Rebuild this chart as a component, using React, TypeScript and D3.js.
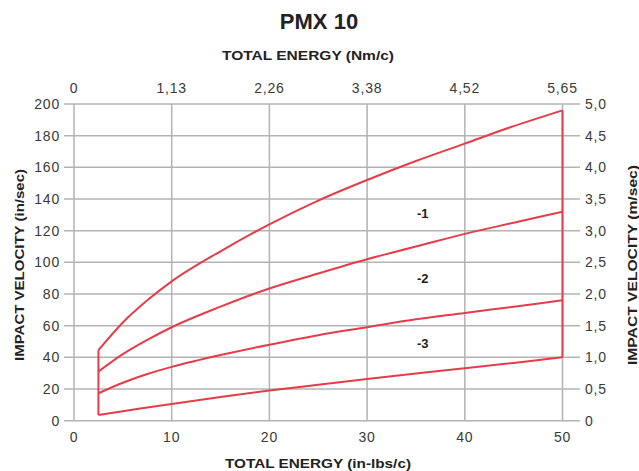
import React, { useEffect, useRef } from 'react';
import * as d3 from 'd3';

// energy (in-lbs/c) sample points
const energy = [2.5, 5, 7.5, 10, 15, 20, 25, 30, 35, 40, 45, 50];
const curveTop = [44.5, 62, 76, 88, 107, 124, 139, 152, 164, 175, 186, 196];
const curveM1 = [31, 42, 51, 59, 72, 83.5, 93, 102, 110, 118, 125, 132];
const curveM2 = [17.3, 24, 29.5, 34, 41.5, 48, 54, 59, 64, 68, 72, 76];
const curveM3 = [3.6, 6, 8.3, 10.6, 15, 19, 22.7, 26.3, 29.8, 33.1, 36.5, 40];

const seriesLabels = [
    { text: '-1', x: 35.7, y: 131 },
    { text: '-2', x: 35.7, y: 90 },
    { text: '-3', x: 35.7, y: 49 },
];

const xTicks = [0, 10, 20, 30, 40, 50];
const topTickLabels = ['0', '1,13', '2,26', '3,38', '4,52', '5,65'];
const yTicks = [0, 20, 40, 60, 80, 100, 120, 140, 160, 180, 200];
const rightTickLabels = ['0', '0,5', '1,0', '1,5', '2,0', '2,5', '3,0', '3,5', '4,0', '4,5', '5,0'];

const App = () => {
    const svgRef = useRef(null);
    const width = 639;
    const height = 471;

    useEffect(() => {
        const svg = d3.select(svgRef.current);
        svg.selectAll('*').remove();

        const xScale = d3.scaleLinear().domain([0, 50]).range([74, 562.5]);
        const yScale = d3.scaleLinear().domain([0, 200]).range([420.7, 104]);

        const gridColor = '#b3b3b3';
        const textColor = '#3a3a3a';
        const red = '#e43d4a';
        const font = 'Liberation Sans, Arial, sans-serif';

        // gridlines
        svg.append('g').selectAll('line')
            .data(yTicks)
            .join('line')
            .attr('x1', 64)
            .attr('x2', 580)
            .attr('y1', d => yScale(d))
            .attr('y2', d => yScale(d))
            .attr('stroke', gridColor)
            .attr('stroke-width', 1.5);

        svg.append('g').selectAll('line')
            .data(xTicks)
            .join('line')
            .attr('x1', d => xScale(d))
            .attr('x2', d => xScale(d))
            .attr('y1', yScale(200))
            .attr('y2', yScale(0))
            .attr('stroke', gridColor)
            .attr('stroke-width', 1.5);

        // tick labels
        const tickText = sel => sel
            .attr('font-family', font)
            .attr('font-size', 14)
            .attr('letter-spacing', 0.8)
            .attr('fill', textColor);

        svg.append('g').selectAll('text')
            .data(yTicks)
            .join('text')
            .attr('x', 60)
            .attr('y', d => yScale(d))
            .attr('dy', '0.35em')
            .attr('text-anchor', 'end')
            .call(tickText)
            .text(d => d);

        svg.append('g').selectAll('text')
            .data(yTicks)
            .join('text')
            .attr('x', 585)
            .attr('y', d => yScale(d))
            .attr('dy', '0.35em')
            .call(tickText)
            .text((d, i) => rightTickLabels[i]);

        svg.append('g').selectAll('text')
            .data(xTicks)
            .join('text')
            .attr('x', d => xScale(d))
            .attr('y', 442)
            .attr('text-anchor', 'middle')
            .call(tickText)
            .text(d => d);

        svg.append('g').selectAll('text')
            .data(xTicks)
            .join('text')
            .attr('x', d => xScale(d))
            .attr('y', 93)
            .attr('text-anchor', 'middle')
            .call(tickText)
            .text((d, i) => topTickLabels[i]);

        // curves
        const line = d3.line()
            .curve(d3.curveMonotoneX)
            .x(d => xScale(d[0]))
            .y(d => yScale(d[1]));

        [curveTop, curveM1, curveM2, curveM3].forEach(values => {
            svg.append('path')
                .datum(energy.map((e, i) => [e, values[i]]))
                .attr('fill', 'none')
                .attr('stroke', red)
                .attr('stroke-width', 2)
                .attr('d', line);
        });

        // vertical limits at min and max energy
        [0, energy.length - 1].forEach(i => {
            svg.append('line')
                .attr('x1', xScale(energy[i]))
                .attr('x2', xScale(energy[i]))
                .attr('y1', yScale(curveM3[i]))
                .attr('y2', yScale(curveTop[i]))
                .attr('stroke', red)
                .attr('stroke-width', 2);
        });

        svg.append('g').selectAll('text')
            .data(seriesLabels)
            .join('text')
            .attr('x', d => xScale(d.x))
            .attr('y', d => yScale(d.y))
            .attr('dy', '0.35em')
            .attr('text-anchor', 'middle')
            .attr('font-family', font)
            .attr('font-size', 13)
            .attr('font-weight', 'bold')
            .attr('fill', '#222')
            .text(d => d.text);

        // titles
        const titleText = (sel, len) => sel
            .attr('text-anchor', 'middle')
            .attr('font-family', font)
            .attr('font-size', 13)
            .attr('font-weight', 'bold')
            .attr('fill', '#222')
            .attr('textLength', len)
            .attr('lengthAdjust', 'spacingAndGlyphs');

        svg.append('text')
            .attr('x', 319)
            .attr('y', 29)
            .attr('text-anchor', 'middle')
            .attr('font-family', font)
            .attr('font-size', 22)
            .attr('font-weight', 'bold')
            .attr('fill', '#222')
            .text('PMX 10');

        svg.append('text')
            .attr('x', 308)
            .attr('y', 60)
            .call(titleText, 172)
            .text('TOTAL ENERGY (Nm/c)');

        svg.append('text')
            .attr('x', 318)
            .attr('y', 468)
            .call(titleText, 186)
            .text('TOTAL ENERGY (in-lbs/c)');

        svg.append('text')
            .attr('transform', 'translate(19, 265) rotate(-90)')
            .attr('dy', '0.35em')
            .call(titleText, 192)
            .text('IMPACT VELOCITY (in/sec)');

        svg.append('text')
            .attr('transform', 'translate(632, 265) rotate(-90)')
            .attr('dy', '0.35em')
            .call(titleText, 200)
            .text('IMPACT VELOCITY (m/sec)');
    }, []);

    return (
        <svg ref={svgRef} width={width} height={height}
            style={{ position: 'absolute', left: 0, top: 0, background: '#fff' }} />
    );
};

export default App;
